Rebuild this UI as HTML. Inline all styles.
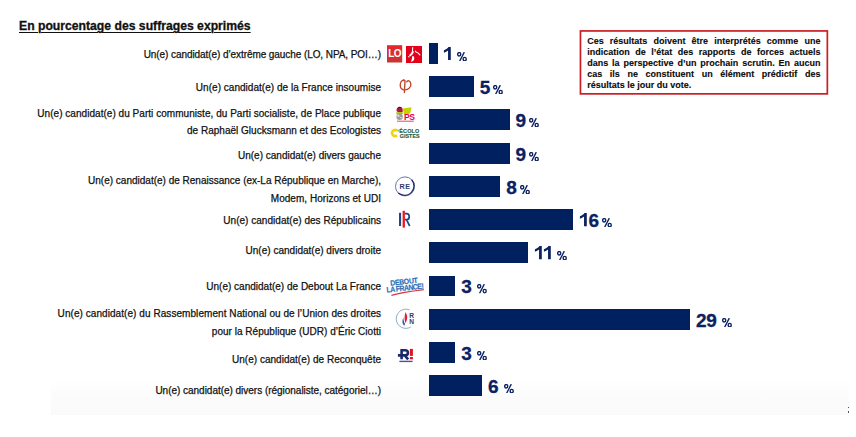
<!DOCTYPE html>
<html><head><meta charset="utf-8"><style>
html,body{margin:0;padding:0;background:#fff;width:856px;height:437px;overflow:hidden;position:relative}
body{font-family:"Liberation Sans",sans-serif}
.title{position:absolute;left:19px;top:19px;font-weight:bold;font-size:12.2px;line-height:15px;color:#111;white-space:nowrap;-webkit-text-stroke:0.3px #111;text-decoration:underline;text-decoration-thickness:1px;text-underline-offset:1.5px}
.lb{position:absolute;right:475px;font-size:10px;line-height:12px;color:#111;white-space:nowrap;text-align:right;-webkit-text-stroke:0.25px #111}
.bar{position:absolute;height:20.6px;background:#002060}
.pc{position:absolute;font-weight:bold;font-size:19px;letter-spacing:-0.3px;line-height:22px;color:#0c2161;white-space:nowrap;-webkit-text-stroke:0.3px #0c2161}
.pc .one{display:inline-block;vertical-align:0.3px}
.ps{position:absolute}
.box{position:absolute;left:0;top:0;width:856px;height:100px}
.box p{margin:0;position:absolute;left:587.2px;top:35.6px;width:233.3px;font-weight:bold;font-size:9px;line-height:11.15px;text-align:justify;color:#0a0a0a;-webkit-text-stroke:0.1px #0a0a0a}
.band{position:absolute;left:51px;top:380px;width:798px;height:34.5px;background:linear-gradient(#fff,#fcfcfc 40%,#fafafa)}
.colon{position:absolute;left:847.5px;top:406.5px;width:1.2px;height:6.5px;background:linear-gradient(#555 0,#555 25%,transparent 25%,transparent 70%,#555 70%)}
</style></head><body>
<div class="band"></div><div class="colon"></div>
<div class="title">En pourcentage des suffrages exprimés</div>
<div class="box"><svg style="position:absolute;left:0;top:0" width="856" height="100"><rect x="580.45" y="30.95" width="246.9" height="62.9" fill="none" stroke="#cd1d22" stroke-width="1.7"/></svg><p>Ces résultats doivent être interprétés comme une indication de l’état des rapports de forces actuels dans la perspective d’un prochain scrutin. En aucun cas ils ne constituent un élément prédictif des résultats le jour du vote.</p></div>
<div class="lb" style="top:48.90px;letter-spacing:-0.076px;right:475.076px">Un(e) candidat(e) d’extrême gauche (LO, NPA, POI…)</div>
<div class="bar" style="top:43.1px;left:428.7px;width:8.9px"></div>
<div class="pc" style="top:43.6px;left:443.4px"><svg class="one" width="9.7" height="13.3" viewBox="0 0 9.7 13.3"><path d="M7.8,0 L7.8,13.3 L5.05,13.3 L5.05,3.5 C3.95,4.5 2.5,5.3 0.9,5.8 L0.9,3.3 C2,2.9 3.2,2.2 4.1,1.4 C4.8,0.8 5.2,0.4 5.45,0 Z" fill="#0c2161"/></svg></div>
<svg class="ps" style="left:456.6px;top:51.7px" width="10" height="9.4" viewBox="0 0 10 9.4"><g fill="none" stroke="#0c2161" stroke-width="1.35"><ellipse cx="2.2" cy="2.3" rx="1.55" ry="1.75"/><ellipse cx="7.7" cy="7.1" rx="1.55" ry="1.75"/><path d="M7.3,0.1 L2.6,9.3"/></g></svg>
<div class="lb" style="top:81.90px;letter-spacing:0.030px;right:474.970px">Un(e) candidat(e) de la France insoumise</div>
<div class="bar" style="top:76.1px;left:428.7px;width:45.2px"></div>
<div class="pc" style="top:76.6px;left:479.7px">5</div>
<svg class="ps" style="left:492.6px;top:84.7px" width="10" height="9.4" viewBox="0 0 10 9.4"><g fill="none" stroke="#0c2161" stroke-width="1.35"><ellipse cx="2.2" cy="2.3" rx="1.55" ry="1.75"/><ellipse cx="7.7" cy="7.1" rx="1.55" ry="1.75"/><path d="M7.3,0.1 L2.6,9.3"/></g></svg>
<div class="lb" style="top:107.70px;letter-spacing:0.039px;right:474.961px">Un(e) candidat(e) du Parti communiste, du Parti socialiste, de Place publique</div>
<div class="lb" style="top:125.00px;letter-spacing:0.015px;right:474.985px">de Raphaël Glucksmann et des Ecologistes</div>
<div class="bar" style="top:109.4px;left:428.7px;width:81.0px"></div>
<div class="pc" style="top:109.9px;left:515.5px">9</div>
<svg class="ps" style="left:528.5px;top:118.0px" width="10" height="9.4" viewBox="0 0 10 9.4"><g fill="none" stroke="#0c2161" stroke-width="1.35"><ellipse cx="2.2" cy="2.3" rx="1.55" ry="1.75"/><ellipse cx="7.7" cy="7.1" rx="1.55" ry="1.75"/><path d="M7.3,0.1 L2.6,9.3"/></g></svg>
<div class="lb" style="top:150.15px;letter-spacing:0.006px;right:474.994px">Un(e) candidat(e) divers gauche</div>
<div class="bar" style="top:143.0px;left:428.7px;width:81.0px"></div>
<div class="pc" style="top:143.5px;left:515.5px">9</div>
<svg class="ps" style="left:528.5px;top:151.6px" width="10" height="9.4" viewBox="0 0 10 9.4"><g fill="none" stroke="#0c2161" stroke-width="1.35"><ellipse cx="2.2" cy="2.3" rx="1.55" ry="1.75"/><ellipse cx="7.7" cy="7.1" rx="1.55" ry="1.75"/><path d="M7.3,0.1 L2.6,9.3"/></g></svg>
<div class="lb" style="top:175.10px;letter-spacing:0.000px;right:475.000px">Un(e) candidat(e) de Renaissance (ex-La République en Marche),</div>
<div class="lb" style="top:193.10px;letter-spacing:0.036px;right:474.964px">Modem, Horizons et UDI</div>
<div class="bar" style="top:176.2px;left:428.7px;width:71.8px"></div>
<div class="pc" style="top:176.7px;left:506.3px">8</div>
<svg class="ps" style="left:519.8px;top:184.8px" width="10" height="9.4" viewBox="0 0 10 9.4"><g fill="none" stroke="#0c2161" stroke-width="1.35"><ellipse cx="2.2" cy="2.3" rx="1.55" ry="1.75"/><ellipse cx="7.7" cy="7.1" rx="1.55" ry="1.75"/><path d="M7.3,0.1 L2.6,9.3"/></g></svg>
<div class="lb" style="top:214.90px;letter-spacing:0.029px;right:474.971px">Un(e) candidat(e) des Républicains</div>
<div class="bar" style="top:209.3px;left:428.7px;width:144.3px"></div>
<div class="pc" style="top:209.8px;left:578.8px"><svg class="one" width="9.7" height="13.3" viewBox="0 0 9.7 13.3"><path d="M7.8,0 L7.8,13.3 L5.05,13.3 L5.05,3.5 C3.95,4.5 2.5,5.3 0.9,5.8 L0.9,3.3 C2,2.9 3.2,2.2 4.1,1.4 C4.8,0.8 5.2,0.4 5.45,0 Z" fill="#0c2161"/></svg>6</div>
<svg class="ps" style="left:602.3px;top:217.9px" width="10" height="9.4" viewBox="0 0 10 9.4"><g fill="none" stroke="#0c2161" stroke-width="1.35"><ellipse cx="2.2" cy="2.3" rx="1.55" ry="1.75"/><ellipse cx="7.7" cy="7.1" rx="1.55" ry="1.75"/><path d="M7.3,0.1 L2.6,9.3"/></g></svg>
<div class="lb" style="top:245.20px;letter-spacing:0.013px;right:474.987px">Un(e) candidat(e) divers droite</div>
<div class="bar" style="top:242.4px;left:428.7px;width:99.3px"></div>
<div class="pc" style="top:242.9px;left:533.8px"><svg class="one" width="9.7" height="13.3" viewBox="0 0 9.7 13.3"><path d="M7.8,0 L7.8,13.3 L5.05,13.3 L5.05,3.5 C3.95,4.5 2.5,5.3 0.9,5.8 L0.9,3.3 C2,2.9 3.2,2.2 4.1,1.4 C4.8,0.8 5.2,0.4 5.45,0 Z" fill="#0c2161"/></svg><svg class="one" width="9.7" height="13.3" viewBox="0 0 9.7 13.3"><path d="M7.8,0 L7.8,13.3 L5.05,13.3 L5.05,3.5 C3.95,4.5 2.5,5.3 0.9,5.8 L0.9,3.3 C2,2.9 3.2,2.2 4.1,1.4 C4.8,0.8 5.2,0.4 5.45,0 Z" fill="#0c2161"/></svg></div>
<svg class="ps" style="left:556.7px;top:251.0px" width="10" height="9.4" viewBox="0 0 10 9.4"><g fill="none" stroke="#0c2161" stroke-width="1.35"><ellipse cx="2.2" cy="2.3" rx="1.55" ry="1.75"/><ellipse cx="7.7" cy="7.1" rx="1.55" ry="1.75"/><path d="M7.3,0.1 L2.6,9.3"/></g></svg>
<div class="lb" style="top:281.20px;letter-spacing:0.005px;right:474.995px">Un(e) candidat(e) de Debout La France</div>
<div class="bar" style="top:275.6px;left:428.7px;width:26.7px"></div>
<div class="pc" style="top:276.1px;left:461.2px">3</div>
<svg class="ps" style="left:476.6px;top:284.2px" width="10" height="9.4" viewBox="0 0 10 9.4"><g fill="none" stroke="#0c2161" stroke-width="1.35"><ellipse cx="2.2" cy="2.3" rx="1.55" ry="1.75"/><ellipse cx="7.7" cy="7.1" rx="1.55" ry="1.75"/><path d="M7.3,0.1 L2.6,9.3"/></g></svg>
<div class="lb" style="top:308.35px;letter-spacing:0.064px;right:474.936px">Un(e) candidat(e) du Rassemblement National ou de l’Union des droites</div>
<div class="lb" style="top:325.50px;letter-spacing:0.021px;right:474.979px">pour la République (UDR) d’Éric Ciotti</div>
<div class="bar" style="top:309.0px;left:428.7px;width:261.6px"></div>
<div class="pc" style="top:309.5px;left:696.1px">29</div>
<svg class="ps" style="left:722.0px;top:317.6px" width="10" height="9.4" viewBox="0 0 10 9.4"><g fill="none" stroke="#0c2161" stroke-width="1.35"><ellipse cx="2.2" cy="2.3" rx="1.55" ry="1.75"/><ellipse cx="7.7" cy="7.1" rx="1.55" ry="1.75"/><path d="M7.3,0.1 L2.6,9.3"/></g></svg>
<div class="lb" style="top:353.50px;letter-spacing:0.019px;right:474.981px">Un(e) candidat(e) de Reconquête</div>
<div class="bar" style="top:342.3px;left:428.7px;width:26.7px"></div>
<div class="pc" style="top:342.8px;left:461.2px">3</div>
<svg class="ps" style="left:476.6px;top:350.9px" width="10" height="9.4" viewBox="0 0 10 9.4"><g fill="none" stroke="#0c2161" stroke-width="1.35"><ellipse cx="2.2" cy="2.3" rx="1.55" ry="1.75"/><ellipse cx="7.7" cy="7.1" rx="1.55" ry="1.75"/><path d="M7.3,0.1 L2.6,9.3"/></g></svg>
<div class="lb" style="top:384.90px;letter-spacing:-0.023px;right:475.023px">Un(e) candidat(e) divers (régionaliste, catégoriel…)</div>
<div class="bar" style="top:375.4px;left:428.7px;width:53.5px"></div>
<div class="pc" style="top:375.9px;left:488.0px">6</div>
<svg class="ps" style="left:503.8px;top:384.0px" width="10" height="9.4" viewBox="0 0 10 9.4"><g fill="none" stroke="#0c2161" stroke-width="1.35"><ellipse cx="2.2" cy="2.3" rx="1.55" ry="1.75"/><ellipse cx="7.7" cy="7.1" rx="1.55" ry="1.75"/><path d="M7.3,0.1 L2.6,9.3"/></g></svg>
<svg style="position:absolute;left:0;top:0" width="856" height="437" viewBox="0 0 856 437">
<defs>
<linearGradient id="lo" x1="0" y1="0" x2="0" y2="1"><stop offset="0" stop-color="#e8262b"/><stop offset="1" stop-color="#c73634"/></linearGradient>
</defs>
<!-- LO -->
<rect x="387" y="45.2" width="15.2" height="17.3" fill="url(#lo)"/>
<text x="394.6" y="57.4" text-anchor="middle" font-family="Liberation Sans" font-weight="bold" font-size="10px" letter-spacing="-0.6" fill="#fff">LO</text>
<!-- NPA -->
<rect x="406" y="46" width="16" height="17" fill="#e2001a"/>
<g fill="none" stroke="#fff" stroke-linecap="round">
<path d="M412.7,47.6 C412.6,49.5 412.6,51 412.3,52.4" stroke-width="1.1"/>
<path d="M412.8,52 C412.4,53.6 411.4,54.6 410.2,55.3" stroke-width="2"/>
<path d="M415.4,51.2 L416.4,52.4" stroke-width="1.1"/>
<path d="M417.6,52.6 L419.9,54.9" stroke-width="1.2"/>
<path d="M408.6,56.6 L409.1,57" stroke-width="1.1"/>
</g>
<path d="M412.4,56 C414.4,55.8 414.8,58.6 413.8,60.2 C413.2,61.2 411.8,61.8 410.9,61.6 C411.8,60.6 411.9,58 412.4,56Z" fill="#fff"/>
<!-- LFI phi -->
<g fill="none" stroke="#c2452d" stroke-width="1.35" stroke-linecap="round">
<path d="M403.6,80.1 C399.6,80.8 398.7,88.8 403.6,89.8 C408.2,90.6 411.4,87.2 410.8,83.6 C410.4,80.6 407.6,79.9 406.7,81.9"/>
<path d="M405,80.6 L404.4,92.5"/>
</g>
<circle cx="403.9" cy="80.2" r="1.05" fill="#c2452d"/>
<!-- PS -->
<path d="M402.8,108.6 L411.6,107.3 L410,113.8 L404,114.8 Z" fill="#c5d300"/>
<path d="M396.6,111 C396.2,107.6 398.8,106.4 400.2,106.8 C402.4,107.2 403.2,109.5 402.6,112 C401,112.8 398.2,112.8 396.6,111Z" fill="#a8183c"/>
<path d="M397.2,108.6 C398.5,106.5 401.2,106.5 402.2,108.2 C400.5,107.6 399,107.8 397.2,108.6Z" fill="#3d0a18"/>
<ellipse cx="399.6" cy="113.1" rx="3.7" ry="1.2" fill="#b3c400"/>
<circle cx="399.6" cy="116.7" r="3.2" fill="#9c9c9c"/>
<circle cx="398.4" cy="115.8" r="1.1" fill="#e6e6e6"/>
<circle cx="400.9" cy="117.6" r="0.8" fill="#dcdcdc"/>
<text x="409.3" y="119.6" text-anchor="middle" font-family="Liberation Sans" font-weight="bold" font-size="8.6px" letter-spacing="-0.5" fill="#e6004a">PS</text>
<rect x="397" y="120.6" width="16.8" height="1.3" fill="#ee7090"/>
<!-- Ecolo -->
<path d="M397,130.7 A3,3 0 1 0 397,135.3" fill="none" stroke="#f5d200" stroke-width="2.5"/>
<circle cx="397.6" cy="130.4" r="0.8" fill="#f5d200"/>
<g font-family="Liberation Sans" font-weight="bold" fill="#1b5a3c" stroke="#1b5a3c" stroke-width="0.15" text-anchor="middle">
<text x="409.4" y="132.9" font-size="5.4px" letter-spacing="0.2">ÉCOLO</text>
<text x="409.7" y="137.5" font-size="5.3px" letter-spacing="0.05">GISTES</text>
</g>
<rect x="397.6" y="129.6" width="1.6" height="2.2" fill="#9cc8a0"/>
<!-- RE -->
<circle cx="405" cy="186.4" r="9.5" fill="none" stroke="#5a65a0" stroke-width="0.9"/>
<path d="M411.7,179.7 A9.5,9.5 0 0 1 398.3,193.1" fill="none" stroke="#25306e" stroke-width="1.3"/>
<text x="405" y="189.3" text-anchor="middle" font-family="Liberation Sans" font-weight="bold" font-size="7.2px" letter-spacing="0.45" fill="#2d3873">RE</text>
<!-- LR -->
<rect x="399" y="212.8" width="2.1" height="13.2" fill="#1b4a8a"/>
<path d="M405,213.7 L406.6,213.7 C410.1,213.7 410.1,219.7 406.6,219.7 L405,219.7 M406.6,219.9 L409.7,226" fill="none" stroke="#1b4a8a" stroke-width="1.7"/>
<rect x="402.6" y="210.8" width="2.3" height="16.8" fill="#f01520"/>
<!-- DLF -->
<g transform="rotate(-6 405 286)" font-family="Liberation Sans" font-weight="bold" fill="#2c6db5" stroke="#2c6db5" stroke-width="0.15">
<text x="404.3" y="284.2" text-anchor="middle" font-size="6.9px" letter-spacing="-0.3" transform="translate(404.3 284.2) scale(1 1.1) translate(-404.3 -284.2)">DEBOUT</text>
<text x="404.6" y="290.6" text-anchor="middle" font-size="7px" letter-spacing="-0.55" transform="translate(404.6 290.6) scale(1 1.1) translate(-404.6 -290.6)">LA FRANCE!</text>
</g>
<path d="M391.4,295.4 Q402,292.3 423.8,289.6" fill="none" stroke="#e03040" stroke-width="1.1"/>
<!-- RN -->
<path d="M409.5,309.9 A9.6,9.6 0 1 0 410.8,327" fill="none" stroke="#8aa0b8" stroke-width="0.9"/>
<path d="M405.6,312 C404.4,315 404.2,319 405.3,323 C406.8,321.2 407.8,318.4 407,315.6 C406.6,314.2 406,313 405.6,312Z" fill="#e0203a"/>
<path d="M403.4,317.4 C401.9,320.4 402,323.6 404.2,325.7 C404.8,325.2 405.1,324.6 404.9,323.8 C404,322 403.4,319.8 403.4,317.4Z" fill="#2a5a9a"/>
<text x="411.7" y="317.8" text-anchor="middle" font-family="Liberation Sans" font-weight="bold" font-size="6.6px" fill="#233d73">R</text>
<text x="411.7" y="324.2" text-anchor="middle" font-family="Liberation Sans" font-weight="bold" font-size="6.6px" fill="#233d73">N</text>
<!-- Reconquete -->
<g fill="none" stroke="#1b2a6b" stroke-width="2.6">
<path d="M401.6,359.3 L401.6,350.2 L405,350.2 C408.9,350.2 408.9,355.4 405,355.4 L397.9,355.4 M404.8,355.6 L408.2,359.3"/>
</g>
<rect x="409.9" y="348.9" width="3" height="7" fill="#e8101e"/>
<rect x="409.9" y="357" width="3" height="2.3" fill="#e8101e"/>
<rect x="399.4" y="360.7" width="13.2" height="1.4" fill="#4a5590"/>
</svg>

</body></html>
